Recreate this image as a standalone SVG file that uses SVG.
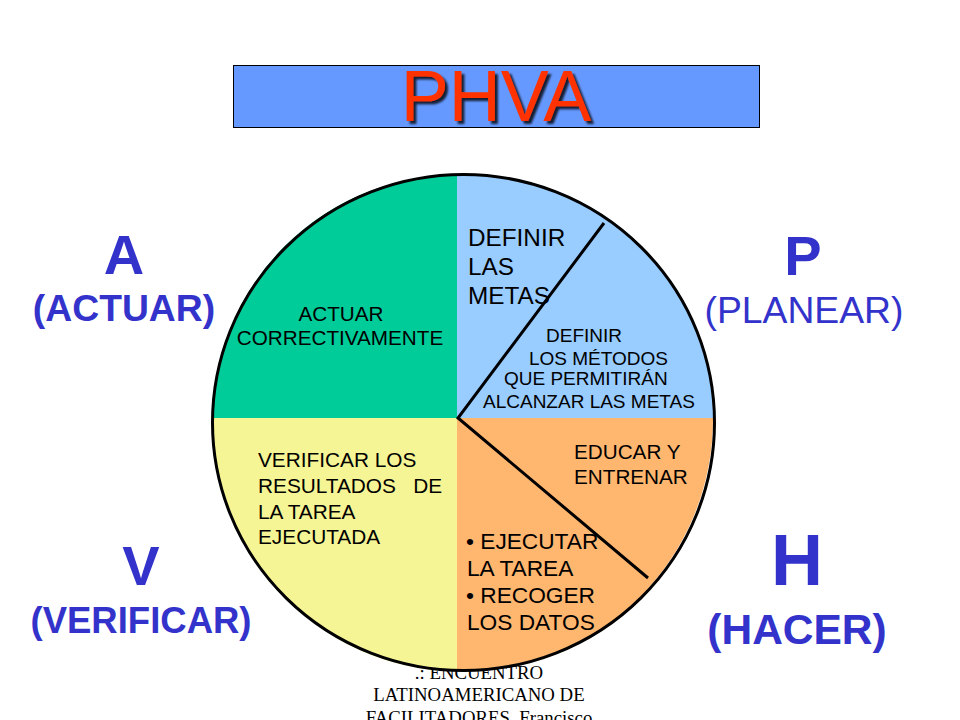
<svg xmlns="http://www.w3.org/2000/svg" width="960" height="720" viewBox="0 0 960 720">
<defs><filter id="sh" x="-10%" y="-10%" width="120%" height="130%"><feDropShadow dx="3" dy="3" stdDeviation="1" flood-color="#000" flood-opacity=".8"/></filter></defs>
<style>
text{font-family:"Liberation Sans",Arial,sans-serif;fill:#000}
.b{fill:#3333cc}
.bb{fill:#3333cc;font-weight:bold}
.m{text-anchor:middle}
.f{font-family:"Liberation Serif","Times New Roman",serif;font-size:18.800px;text-anchor:middle}
</style>
<rect width="960" height="720" fill="#fff"/>
<g id="title">
<rect x="233.500" y="65.500" width="526" height="62" fill="#6699ff" stroke="#000" stroke-width="1"/>
<text x="496" y="121" font-size="72" text-anchor="middle" style="fill:#ff3300" filter="url(#sh)">PHVA</text>
</g>
<g id="footer">
<text class="f" x="479" y="679">.: ENCUENTRO</text>
<text class="f" x="479" y="701">LATINOAMERICANO DE</text>
<text class="f" x="479" y="724">FACILITADORES, Francisco</text>
</g>
<g id="pie">
<path id="sector-a" d="M457 418V175A244 244 0 0 0 213 418Z" fill="#00cc99"/>
<path id="sector-p" d="M457 418V175A244 244 0 0 1 713 418Z" fill="#99ccff"/>
<path id="sector-h" d="M457 418H713A250 252 0 0 1 457 671Z" fill="#ffb66f"/>
<path id="sector-v" d="M457 418V671A244 252 0 0 1 213 418Z" fill="#f6f595"/>
</g>
<g id="connectors" fill="none" stroke="#000" stroke-width="3">
<ellipse cx="463.500" cy="422.500" rx="251" ry="248"/>
<path d="M604 223L458 418L648 578"/>
</g>
<g id="node-a"><text class="bb m" x="124" y="274" font-size="56">A</text><text class="bb m" x="124" y="321" font-size="37.300">(ACTUAR)</text></g>
<g id="node-p"><text class="bb m" x="803" y="275" font-size="56">P</text><text class="b m" x="804" y="323" font-size="37.300">(PLANEAR)</text></g>
<g id="node-v"><text class="bb m" x="141" y="585" font-size="56">V</text><text class="bb m" x="141" y="633" font-size="36.500">(VERIFICAR)</text></g>
<g id="node-h"><text class="bb m" x="797" y="585" font-size="72">H</text><text class="bb m" x="797" y="644" font-size="42.500">(HACER)</text></g>
<g id="text-a" font-size="20.700"><text class="m" x="341" y="321">ACTUAR</text><text class="m" x="340" y="345">CORRECTIVAMENTE</text></g>
<g id="text-p1" font-size="24.300"><text x="468" y="246">DEFINIR</text><text x="468" y="275">LAS</text><text x="468" y="304">METAS</text></g>
<g id="text-p2" font-size="19"><text x="546" y="342">DEFINIR</text><text x="529" y="365">LOS MÉTODOS</text><text x="504" y="385">QUE PERMITIRÁN</text><text x="483" y="408">ALCANZAR LAS METAS</text></g>
<g id="text-h1" font-size="20.700"><text x="574" y="459">EDUCAR Y</text><text x="574" y="484">ENTRENAR</text></g>
<g id="text-h2" font-size="22.700"><text x="466" y="549">• EJECUTAR</text><text x="467" y="576">LA TAREA</text><text x="466" y="603">• RECOGER</text><text x="467" y="630">LOS DATOS</text></g>
<g id="text-v" font-size="20.800"><text x="258" y="467">VERIFICAR LOS</text><text x="258" y="493" xml:space="preserve">RESULTADOS   DE</text><text x="258" y="519">LA TAREA</text><text x="258" y="544">EJECUTADA</text></g>
</svg>
